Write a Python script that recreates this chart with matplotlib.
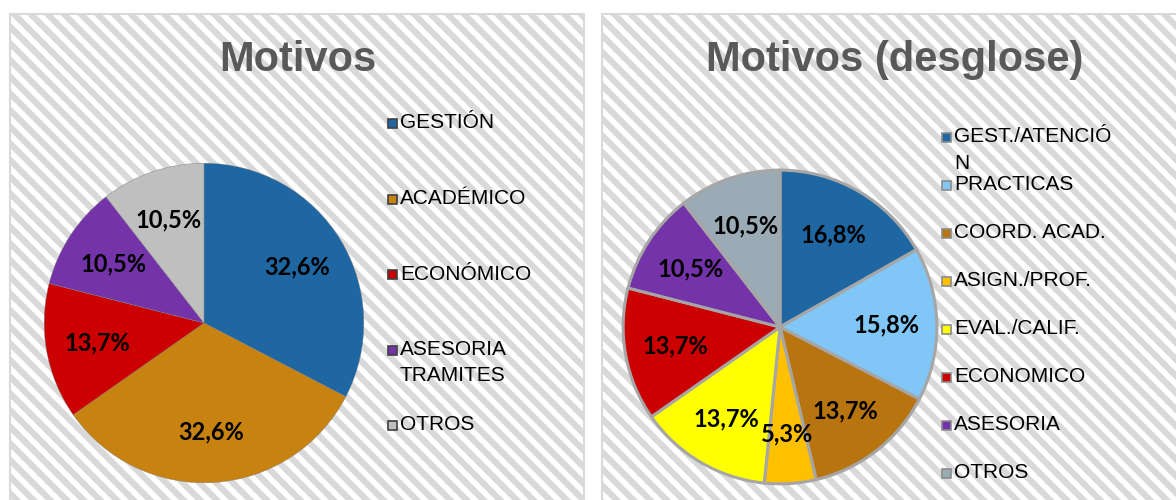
import matplotlib
matplotlib.use("Agg")
import matplotlib.pyplot as plt
from matplotlib.patches import Rectangle

# left chart: Motivos
cats_l = ["GESTIÓN", "ACADÉMICO", "ECONÓMICO", "ASESORIA\nTRAMITES", "OTROS"]
vals_l = [32.6, 32.6, 13.7, 10.5, 10.5]
cols_l = ["#1f67a3", "#c7820f", "#cc0000", "#7433a8", "#bfbfbf"]

# right chart: Motivos (desglose)
cats_r = ["GEST./ATENCIÓ\nN", "PRACTICAS", "COORD. ACAD.", "ASIGN./PROF.",
          "EVAL./CALIF.", "ECONOMICO", "ASESORIA", "OTROS"]
vals_r = [16.8, 15.8, 13.7, 5.3, 13.7, 13.7, 10.5, 10.5]
cols_r = ["#1f67a3", "#80c6f6", "#b8740f", "#ffc000", "#ffff00", "#cc0000",
          "#7433a8", "#9aabb6"]

W, H = 1176, 500
TITLE_C = "#595959"
plt.rcParams["hatch.linewidth"] = 4.5


def fx(px):
    return px / W


def fy(py):
    return 1 - py / H


def pct(v):
    return f"{v:.1f}".replace(".", ",") + "%"


fig = plt.figure(figsize=(W / 100, H / 100), dpi=100)

# panel backgrounds with diagonal stripes
for x0, x1 in [(10, 584), (602, 1190)]:
    fig.patches.append(Rectangle((fx(x0), fy(520)), fx(x1 - x0), (520 - 14) / H,
                                 transform=fig.transFigure, facecolor="white",
                                 edgecolor="#d9d9d9", hatch="\\\\", lw=1.5, zorder=-5))


def draw_pie(box, vals, cols, edge, lw):
    ax = fig.add_axes(box, zorder=2)
    ax.patch.set_visible(False)
    ax.pie(vals, colors=cols, startangle=90, counterclock=False,
           autopct=lambda p: pct(p), pctdistance=0.68,
           wedgeprops=dict(edgecolor=edge, linewidth=lw),
           textprops=dict(fontfamily="Lato", fontweight="bold", fontsize=17, color="black"))
    ax.set_xlim(-1.02, 1.02)
    ax.set_ylim(-1.02, 1.02)
    ax.axis("off")
    return ax


def draw_legend(cats, cols, x_mark, y0, step, edge):
    for i, (c, col) in enumerate(zip(cats, cols)):
        y = y0 + i * step
        fig.patches.append(Rectangle((fx(x_mark), fy(y + 5)), fx(9), 9 / H,
                                     transform=fig.transFigure, facecolor=col,
                                     edgecolor=edge, lw=1.2, zorder=3))
        for j, line in enumerate(c.split("\n")):
            fig.text(fx(x_mark + 12), fy(y + j * 26), line, fontsize=15,
                     fontfamily="Liberation Sans", va="center", ha="left")


# left
draw_pie([fx(41), fy(486), fx(326), 326 / H], vals_l, cols_l, "#7f7f7f", 0.3)
fig.text(fx(298), fy(60), "Motivos", fontsize=30, fontweight="bold",
         fontfamily="Liberation Sans", color=TITLE_C, ha="center", va="center")
draw_legend(cats_l, cols_l, 388, 123, 75.5, "#404040")

# right
draw_pie([fx(620), fy(487), fx(320), 320 / H], vals_r, cols_r, "#a6a6a6", 2.2)
fig.text(fx(895), fy(60), "Motivos (desglose)", fontsize=30, fontweight="bold",
         fontfamily="Liberation Sans", color=TITLE_C, ha="center", va="center")
draw_legend(cats_r, cols_r, 942, 137, 48, "#8c8c8c")

fig.savefig("out.png", dpi=100)
